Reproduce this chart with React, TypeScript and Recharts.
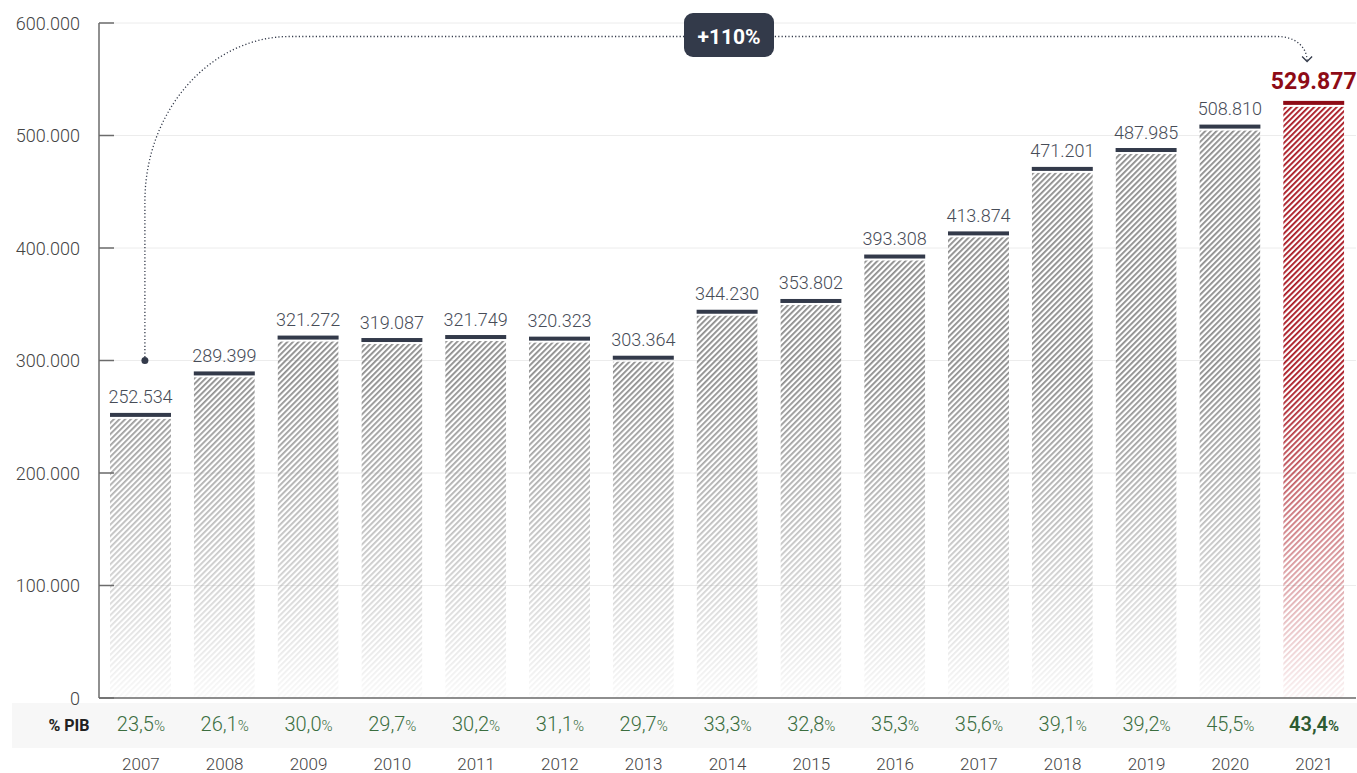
import React from "react";
import {
  BarChart,
  Bar,
  XAxis,
  YAxis,
  CartesianGrid,
  LabelList,
  ReferenceLine,
} from "recharts";

// Deuda pública (miles de euros) y % sobre PIB
const years = [
  "2007", "2008", "2009", "2010", "2011", "2012", "2013", "2014",
  "2015", "2016", "2017", "2018", "2019", "2020", "2021",
];
const debt = [
  252534, 289399, 321272, 319087, 321749, 320323, 303364, 344230,
  353802, 393308, 413874, 471201, 487985, 508810, 529877,
];
const pibShare = [
  "23,5", "26,1", "30,0", "29,7", "30,2", "31,1", "29,7", "33,3",
  "32,8", "35,3", "35,6", "39,1", "39,2", "45,5", "43,4",
];
const yTicks = [0, 100000, 200000, 300000, 400000, 500000, 600000];
const growthLabel = "+110%";
const growthFrom = 300000;
const growthTo = 588000;

const data = years.map((year, i) => ({ year, debt: debt[i], pib: pibShare[i] }));
const lastIndex = years.length - 1;

const DARK = "#333a4a";
const RED = "#8e0b16";
const FONT = "Roboto, 'Noto Sans', sans-serif";

const fmt = (v: number) => String(v).replace(/\B(?=(\d{3})+(?!\d))/g, ".");

const HatchBar = (props: any) => {
  const { x, y, width, height, index } = props;
  if (!height || height <= 0) return null;
  const last = index === lastIndex;
  const base = y + height;
  const capH = 4;
  const top = y - 1;
  const pid = `hatch-${index}`;
  const gid = `fadeg-${index}`;
  const mid = `fade-${index}`;
  return (
    <g>
      <defs>
        <pattern
          id={pid}
          patternUnits="userSpaceOnUse"
          width={4}
          height={4}
          patternTransform="rotate(45)"
        >
          <rect x={0} y={0} width={1.8} height={4} fill={last ? "#a8141f" : "#8c8c8c"} />
        </pattern>
        <linearGradient
          id={gid}
          gradientUnits="userSpaceOnUse"
          x1={0}
          y1={base - 320}
          x2={0}
          y2={base}
        >
          <stop offset="0" stopColor="#fff" stopOpacity={1} />
          <stop offset="1" stopColor="#fff" stopOpacity={0.05} />
        </linearGradient>
        <mask id={mid} maskUnits="userSpaceOnUse">
          <rect x={x} y={top} width={width} height={base - top} fill={`url(#${gid})`} />
        </mask>
      </defs>
      <rect x={x} y={top} width={width} height={capH} fill={last ? RED : DARK} />
      <rect
        x={x}
        y={top + capH + 2}
        width={width}
        height={Math.max(0, base - top - capH - 2)}
        fill={`url(#${pid})`}
        mask={`url(#${mid})`}
      />
    </g>
  );
};

const ValueLabel = (props: any) => {
  const { x, y, width, value, index } = props;
  const last = index === lastIndex;
  return (
    <text
      x={x + width / 2}
      y={last ? y - 13 : y - 10.5}
      textAnchor="middle"
      fontSize={last ? 23 : 18}
      fontWeight={last ? 700 : 300}
      fill={last ? RED : "#474c57"}
      fontFamily={FONT}
    >
      {fmt(value)}
    </text>
  );
};

const YTick = (props: any) => {
  const { x, y, payload } = props;
  const axisX = x + 19;
  return (
    <g>
      <line x1={axisX} y1={y} x2={axisX + 15} y2={y} stroke="#6b6b6b" strokeWidth={1.5} />
      <text
        x={x}
        y={y}
        textAnchor="end"
        dominantBaseline="central"
        fontSize={18}
        fontWeight={300}
        fill="#444"
        fontFamily={FONT}
      >
        {fmt(payload.value)}
      </text>
    </g>
  );
};

const XTick = (props: any) => {
  const { x, y, payload, index } = props;
  const i = typeof payload.index === "number" ? payload.index : index;
  const last = i === lastIndex;
  return (
    <g fontFamily={FONT}>
      {i === 0 && (
        <text x={x - 72} y={y + 33} textAnchor="middle" fontSize={16} fontWeight={700} fill="#222">
          % PIB
        </text>
      )}
      <text
        x={x}
        y={y + 33}
        textAnchor="middle"
        fill={last ? "#2d5a31" : "#3b6e3f"}
        fontWeight={last ? 600 : 300}
      >
        <tspan fontSize={20}>{pibShare[i]}</tspan>
        <tspan fontSize={15}>%</tspan>
      </text>
      <text x={x} y={y + 72} textAnchor="middle" fontSize={17} fontWeight={300} fill="#444">
        {payload.value}
      </text>
    </g>
  );
};

const GrowthArrow = (props: any) => {
  const { x1, y1, x2, y2 } = props;
  const sx = x1 + 4;
  const ex = x2 - 7;
  const top = y2;
  const rx = 145;
  const ry = 165;
  const mid = (x1 + x2) / 2 + 1.5;
  const d = [
    `M ${sx} ${y1}`,
    `V ${top + ry}`,
    `C ${sx} ${top + ry * 0.45}, ${sx + rx * 0.45} ${top}, ${sx + rx} ${top}`,
    `H ${ex - 30}`,
    `C ${ex - 12} ${top}, ${ex} ${top + 10}, ${ex} ${top + 25}`,
  ].join(" ");
  return (
    <g>
      <path d={d} fill="none" stroke={DARK} strokeWidth={1.3} strokeDasharray="1.2 2.2" />
      <path
        d={`M ${ex - 5} ${top + 20} L ${ex} ${top + 25} L ${ex + 5} ${top + 20}`}
        fill="none"
        stroke={DARK}
        strokeWidth={1.3}
      />
      <circle cx={sx} cy={y1} r={3.5} fill={DARK} />
      <rect x={mid - 45} y={top - 23.5} width={90} height={44} rx={9} fill={DARK} />
      <text
        x={mid}
        y={top + 7.5}
        textAnchor="middle"
        fontSize={21}
        fontWeight={700}
        fill="#fff"
        fontFamily={FONT}
      >
        {growthLabel}
      </text>
    </g>
  );
};

export default function App() {
  return (
    <div
      style={{
        position: "absolute",
        left: 0,
        top: 0,
        width: 1357,
        height: 773,
        background: "#fff",
        fontFamily: FONT,
        overflow: "hidden",
      }}
    >
      <div
        style={{
          position: "absolute",
          left: 12,
          top: 703,
          width: 1345,
          height: 45,
          background: "#f7f7f7",
        }}
      />
      <div style={{ position: "absolute", left: 0, top: 0 }}>
        <BarChart
          width={1357}
          height={773}
          data={data}
          margin={{ top: 23, right: 1, bottom: 0, left: 0 }}
          barSize={61}
          style={{ fontFamily: FONT }}
        >
          <CartesianGrid vertical={false} stroke="#ececec" />
          <XAxis
            dataKey="year"
            interval={0}
            height={75}
            tickSize={0}
            tickMargin={0}
            tickLine={false}
            axisLine={{ stroke: "#6b6b6b", strokeWidth: 1.5 }}
            tick={<XTick />}
          />
          <YAxis
            width={99}
            domain={[0, 600000]}
            ticks={yTicks}
            tickSize={0}
            tickMargin={19}
            tickLine={false}
            axisLine={{ stroke: "#6b6b6b", strokeWidth: 1.5 }}
            tick={<YTick />}
          />
          <Bar dataKey="debt" shape={<HatchBar />} isAnimationActive={false}>
            <LabelList dataKey="debt" content={<ValueLabel />} />
          </Bar>
          <ReferenceLine
            segment={[
              { x: years[0], y: growthFrom },
              { x: years[lastIndex], y: growthTo },
            ]}
            ifOverflow="visible"
            shape={(p: any) => <GrowthArrow {...p} />}
          />
        </BarChart>
      </div>
    </div>
  );
}
